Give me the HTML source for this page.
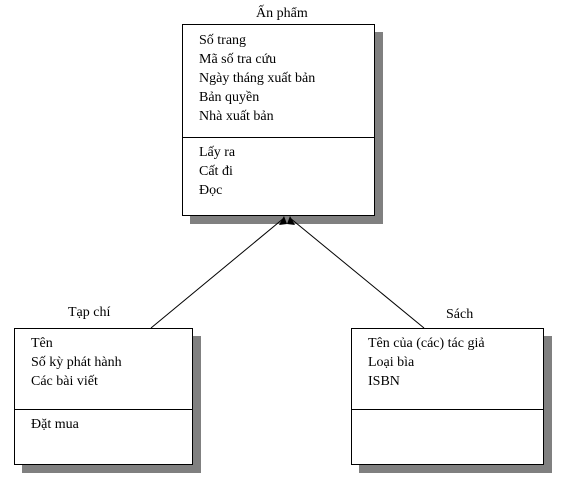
<!DOCTYPE html>
<html><head><meta charset="utf-8"><style>
body{margin:0;width:561px;height:486px;background:#fff;overflow:hidden;position:relative;font-family:"Liberation Serif",serif;font-size:14px;color:#000}
.b{position:absolute;background:#fff;border:1px solid #000;box-sizing:border-box;box-shadow:8px 8px 0 #808080}
.d{position:absolute;left:0;right:0;border-top:1px solid #000}
.t{position:absolute;line-height:19px;white-space:nowrap}
</style></head><body>
<div class="t" style="left:256px;top:4px">Ấn phẩm</div>
<div class="b" style="left:182px;top:24px;width:193px;height:192px">
<div class="t" style="left:16px;top:6px">Số trang<br>Mã số tra cứu<br>Ngày tháng xuất bản<br>Bản quyền<br>Nhà xuất bản</div>
<div class="d" style="top:112px"></div>
<div class="t" style="left:16px;top:118px">Lấy ra<br>Cất đi<br>Đọc</div>
</div>
<div class="t" style="left:68px;top:303px">Tạp chí</div>
<div class="b" style="left:14px;top:328px;width:179px;height:137px">
<div class="t" style="left:16px;top:5px">Tên<br>Số kỳ phát hành<br>Các bài viết</div>
<div class="d" style="top:80px"></div>
<div class="t" style="left:16px;top:86px">Đặt mua</div>
</div>
<div class="t" style="left:446px;top:305px">Sách</div>
<div class="b" style="left:351px;top:328px;width:193px;height:137px">
<div class="t" style="left:16px;top:5px">Tên của (các) tác giả<br>Loại bìa<br>ISBN</div>
<div class="d" style="top:80px"></div>
</div>
<svg width="561" height="486" style="position:absolute;left:0;top:0">
<line x1="151" y1="328" x2="284" y2="218" stroke="#000"/>
<line x1="424" y1="328" x2="290" y2="218" stroke="#000"/>
<polygon points="284,216 279,225 287,224" fill="#000"/>
<polygon points="290,216 287,224 295,225" fill="#000"/>
</svg>
</body></html>
